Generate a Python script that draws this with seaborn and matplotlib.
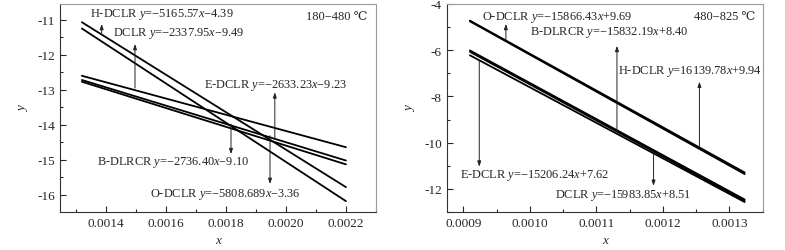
import matplotlib
matplotlib.use("Agg")
import matplotlib.pyplot as plt
from matplotlib.ticker import MultipleLocator, FormatStrFormatter
import seaborn as sns
import pandas as pd

# ---- data ----
left_x = [0.00132, 0.0022]
left_series = ["H-DCLR", "O-DCLR", "DCLR", "E-DCLR", "B-DLRCR"]
left_y = {
    "H-DCLR": [-11.07, -15.78],
    "O-DCLR": [-11.25, -16.18],
    "DCLR": [-12.60, -14.64],
    "E-DCLR": [-12.72, -15.02],
    "B-DLRCR": [-12.77, -15.13],
}
left_labels = {
    "H-DCLR": "H-DCLR $y$=−5165.57$x$−4.39",
    "DCLR": "DCLR $y$=−2337.95$x$−9.49",
    "E-DCLR": "E-DCLR $y$=−2633.23$x$−9.23",
    "B-DLRCR": "B-DLRCR $y$=−2736.40$x$−9.10",
    "O-DCLR": "O-DCLR $y$=−5808.689$x$−3.36",
}
left_range = "180−480 ℃"

right_x = [0.00091, 0.001323]
right_series = ["O-DCLR", "H-DCLR", "B-DLRCR", "DCLR", "E-DCLR"]
right_y = {
    "O-DCLR": [-4.72, -11.29],
    "H-DCLR": [-4.75, -11.36],
    "B-DLRCR": [-6.01, -12.46],
    "DCLR": [-6.07, -12.52],
    "E-DCLR": [-6.22, -12.57],
}
right_labels = {
    "O-DCLR": "O-DCLR $y$=−15866.43$x$+9.69",
    "B-DLRCR": "B-DLRCR $y$=−15832.19$x$+8.40",
    "H-DCLR": "H-DCLR $y$=16139.78$x$+9.94",
    "E-DCLR": "E-DCLR $y$=−15206.24$x$+7.62",
    "DCLR": "DCLR $y$=−15983.85$x$+8.51",
}
right_range = "480−825 ℃"

# ---- style ----
sns.set_style("ticks")
plt.rcParams["font.family"] = ["Liberation Serif", "DejaVu Serif"]
plt.rcParams["mathtext.fontset"] = "custom"
plt.rcParams["mathtext.rm"] = "Liberation Serif"
plt.rcParams["mathtext.it"] = "Liberation Serif:italic"
plt.rcParams["font.size"] = 9
FS = 9.5
AFS = 8.9


def to_df(xs, series, ydict):
    rows = []
    for s in series:
        for xv, yv in zip(xs, ydict[s]):
            rows.append({"x": xv, "y": yv, "series": s})
    return pd.DataFrame(rows)


fig = plt.figure(figsize=(7.85, 2.51), dpi=100)
ax1 = fig.add_axes([0.0764, 0.1514, 0.4025, 0.8287])
ax2 = fig.add_axes([0.569, 0.1514, 0.4025, 0.8287])

for ax, xs, series, yd in [(ax1, left_x, left_series, left_y),
                           (ax2, right_x, right_series, right_y)]:
    df = to_df(xs, series, yd)
    sns.lineplot(data=df, x="x", y="y", hue="series", units="series",
                 estimator=None, palette=["black"] * len(series),
                 linewidth=1.3, legend=False, ax=ax, sort=False)
    ax.tick_params(axis="both", which="major", direction="in", length=4,
                   width=0.8, labelsize=FS, top=False, right=False)
    ax.tick_params(axis="both", which="minor", direction="in", length=2,
                   width=0.8, top=False, right=False)
    for sp in ["top", "right"]:
        ax.spines[sp].set_color("#9a9a9a")
    for sp in ["left", "bottom"]:
        ax.spines[sp].set_color("#333333")
    for sp in ax.spines.values():
        sp.set_linewidth(0.8)
    ax.set_xlabel("x", fontstyle="italic", fontsize=FS, labelpad=4)
    ax.set_ylabel("y", fontstyle="italic", fontsize=FS, labelpad=6)
    ax.xaxis.set_major_formatter(FormatStrFormatter("%.4f"))

# left axis settings
ax1.set_xlim(0.001247, 0.0023)
ax1.set_ylim(-16.49, -10.55)
ax1.xaxis.set_major_locator(MultipleLocator(0.0002))
ax1.xaxis.set_minor_locator(MultipleLocator(0.0001))
ax1.yaxis.set_major_locator(MultipleLocator(1))
ax1.yaxis.set_minor_locator(MultipleLocator(0.5))
ax1.yaxis.set_major_formatter(FormatStrFormatter("%d"))

# right axis settings
ax2.set_xlim(0.000875, 0.00135)
ax2.set_ylim(-13.0, -4.0)
ax2.xaxis.set_major_locator(MultipleLocator(0.0001))
ax2.xaxis.set_minor_locator(MultipleLocator(0.00005))
ax2.yaxis.set_major_locator(MultipleLocator(2))
ax2.yaxis.set_minor_locator(MultipleLocator(1))
ax2.yaxis.set_major_formatter(FormatStrFormatter("%d"))

arrow_kw = dict(arrowstyle="-|>,head_length=0.35,head_width=0.12",
                color="#222222", lw=0.7, shrinkA=0, shrinkB=0)

# left annotations: (text pos), (arrow start on line), (arrow tip)
left_ann = {
    "H-DCLR": ((0.001347, -10.81), (0.001386, -11.42), (0.001386, -11.12)),
    "DCLR": ((0.001423, -11.35), (0.001497, -12.95), (0.001497, -11.69)),
    "E-DCLR": ((0.001727, -12.84), (0.001963, -14.41), (0.001963, -13.07)),
    "B-DLRCR": ((0.001370, -15.06), (0.001817, -13.98), (0.001817, -14.84)),
    "O-DCLR": ((0.001547, -15.95), (0.001947, -14.31), (0.001947, -15.69)),
}
for k, (tp, a0, a1) in left_ann.items():
    ax1.text(tp[0], tp[1], left_labels[k], ha="left", va="center", fontsize=AFS)
    ax1.annotate("", xy=a1, xytext=a0, arrowprops=arrow_kw)
ax1.text(0.002273, -10.89, left_range, ha="right", va="center", fontsize=AFS)

right_ann = {
    "O-DCLR": ((0.000928, -4.52), (0.000964, -5.56), (0.000964, -4.86)),
    "B-DLRCR": ((0.001000, -5.21), (0.001131, -9.51), (0.001131, -5.81)),
    "H-DCLR": ((0.001133, -6.89), (0.001255, -10.30), (0.001255, -7.36)),
    "E-DCLR": ((0.000895, -11.36), (0.000924, -6.43), (0.000924, -11.04)),
    "DCLR": ((0.001038, -12.23), (0.001186, -10.40), (0.001186, -11.87)),
}
for k, (tp, a0, a1) in right_ann.items():
    ax2.text(tp[0], tp[1], right_labels[k], ha="left", va="center", fontsize=AFS)
    ax2.annotate("", xy=a1, xytext=a0, arrowprops=arrow_kw)
ax2.text(0.001339, -4.52, right_range, ha="right", va="center", fontsize=AFS)

fig.savefig("out.png", dpi=100)
